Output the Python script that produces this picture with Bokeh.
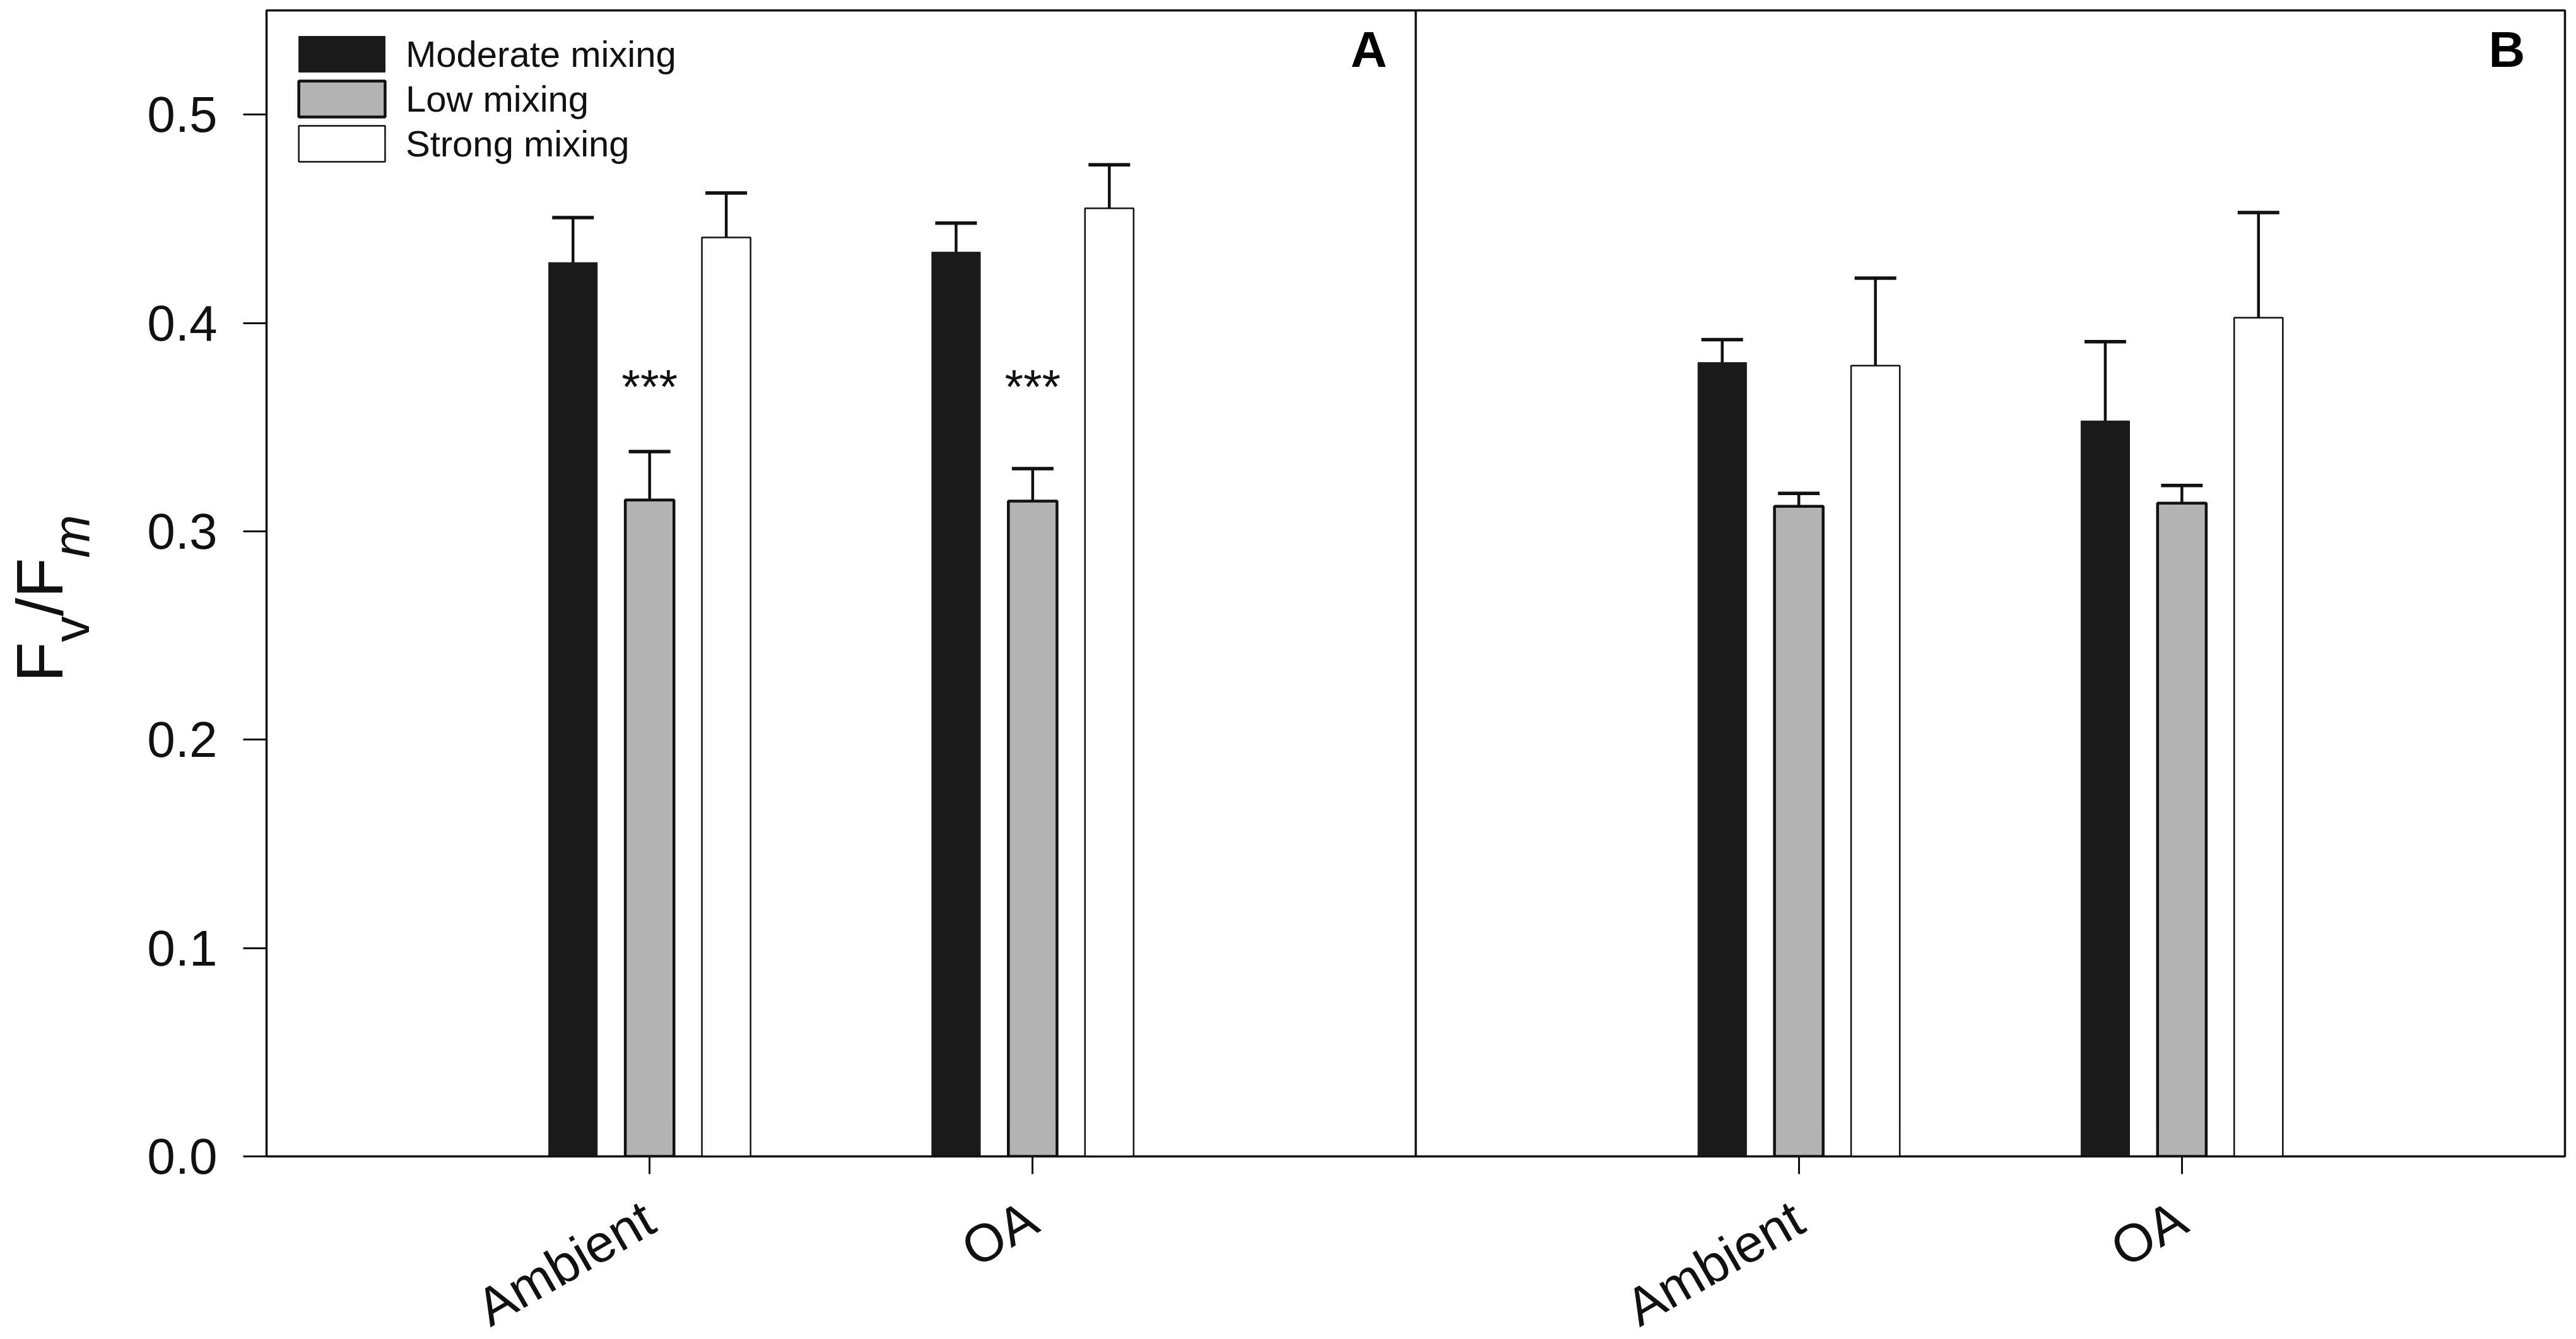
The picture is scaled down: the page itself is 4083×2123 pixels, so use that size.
import math
from bokeh.plotting import figure
from bokeh.layouts import row
from bokeh.models import (ColumnDataSource, FixedTicker, Whisker, TeeHead, Span,
                          Label, Legend, LegendItem, NumeralTickFormatter)
from bokeh.core.properties import value
from bokeh.embed import file_html
from bokeh.resources import INLINE

# ---------------- data ----------------
panels = ["A", "B"]
groups = ["Ambient", "OA"]
series = ["Moderate mixing", "Low mixing", "Strong mixing"]

moderate_A = [0.429, 0.434]
moderate_A_err = [0.0216, 0.0139]
low_A = [0.315, 0.3145]
low_A_err = [0.0233, 0.0156]
strong_A = [0.441, 0.455]
strong_A_err = [0.0214, 0.0209]

moderate_B = [0.381, 0.353]
moderate_B_err = [0.011, 0.038]
low_B = [0.312, 0.3135]
low_B_err = [0.0062, 0.0085]
strong_B = [0.3795, 0.4025]
strong_B_err = [0.042, 0.0505]

sig_panel = "A"          # low mixing marked *** in panel A
sig_text = "***"
sig_level = 0.3695
y_ticks = [0.0, 0.1, 0.2, 0.3, 0.4, 0.5]

# ---------------- styling ----------------
FONT = "Liberation Sans"
INK = "#111111"
colors = ["#1a1a1a", "#b3b3b3", "#ffffff"]
line_colors = ["#1a1a1a", INK, INK]
line_widths = [1, 4.5, 2.5]
offsets = [-0.2, 0.0, 0.2]
BAR_W = 0.127

LAB_W = 160          # width of the strip that holds the y-axis title
FRAME_W, FRAME_H = 3643, 1817

def center(pi, gi):
    return pi * 3 + gi + 1

p = figure(frame_width=FRAME_W, frame_height=FRAME_H, x_range=(0, 6), y_range=(0, 0.55),
           output_backend="svg", toolbar_location=None,
           min_border_left=422 - LAB_W, min_border_top=16, min_border_right=10,
           min_border_bottom=250)
p.xgrid.visible = False
p.ygrid.visible = False
p.outline_line_color = INK
p.outline_line_width = 3.5
p.background_fill_color = "white"
p.border_fill_color = "white"

vals = {
    "Moderate mixing": (moderate_A + moderate_B, moderate_A_err + moderate_B_err),
    "Low mixing": (low_A + low_B, low_A_err + low_B_err),
    "Strong mixing": (strong_A + strong_B, strong_A_err + strong_B_err),
}

items = []
for si, name in enumerate(series):
    tops, errs = vals[name]
    xs = [center(pi, gi) + offsets[si] for pi in range(len(panels)) for gi in range(len(groups))]
    src = ColumnDataSource(dict(x=xs, top=tops, upper=[t + e for t, e in zip(tops, errs)]))
    r = p.vbar(x="x", top="top", bottom=0, width=BAR_W, source=src,
               fill_color=colors[si], line_color=line_colors[si], line_width=line_widths[si])
    w = Whisker(source=src, base="x", lower="top", upper="upper", dimension="height",
                line_color=INK, line_width=4.5, level="annotation",
                upper_head=TeeHead(size=66, line_width=5.5, line_color=INK),
                lower_head=None)
    p.add_layout(w)
    items.append(LegendItem(label=name, renderers=[r]))

# significance marks
pi_sig = panels.index(sig_panel)
sig_src = ColumnDataSource(dict(x=[center(pi_sig, gi) + offsets[1] for gi in range(len(groups))],
                                y=[sig_level] * len(groups), t=[sig_text] * len(groups)))
p.text(x="x", y="y", text="t", source=sig_src, text_align="center", text_baseline="middle",
       text_font=value(FONT), text_font_size="76px", text_color=INK)

# panel divider
p.add_layout(Span(location=3, dimension="height", line_color=INK, line_width=3.5))

# panel letters
for letter, lx in (("A", 2.925), ("B", 5.896)):
    p.add_layout(Label(x=lx, y=0.5312, text=letter, text_align="right", text_baseline="middle",
                       text_font=FONT, text_font_style="bold", text_font_size="80px",
                       text_color="black"))

# axes
ya = p.yaxis[0]
ya.ticker = FixedTicker(ticks=y_ticks)
ya.formatter = NumeralTickFormatter(format="0.0")
ya.major_tick_in = 0
ya.major_tick_out = 37
ya.minor_tick_line_color = None
ya.axis_line_width = 3
ya.major_tick_line_width = 3
ya.axis_line_color = INK
ya.major_tick_line_color = INK
ya.major_label_text_font = FONT
ya.major_label_text_font_size = "80px"
ya.major_label_text_color = INK
ya.major_label_standoff = 41

xa = p.xaxis[0]
xticks = [center(pi, gi) for pi in range(len(panels)) for gi in range(len(groups))]
xa.ticker = FixedTicker(ticks=xticks)
xa.major_label_overrides = {t: groups[i % len(groups)] for i, t in enumerate(xticks)}
xa.major_label_orientation = math.pi / 6
xa.major_tick_in = 0
xa.major_tick_out = 28
xa.minor_tick_line_color = None
xa.axis_line_width = 3
xa.major_tick_line_width = 3
xa.axis_line_color = INK
xa.major_tick_line_color = INK
xa.major_label_text_font = FONT
xa.major_label_text_font_size = "84px"
xa.major_label_text_color = INK
xa.major_label_standoff = 64

# legend (Bokeh insets area glyphs by 10% of the glyph box)
LEG_ROW = 71
legend = Legend(items=items, location=(34, FRAME_H - 34 - 3 * LEG_ROW), orientation="vertical",
                glyph_width=171, glyph_height=LEG_ROW, label_height=60, spacing=0,
                label_standoff=16, padding=0, margin=0,
                label_text_font=FONT, label_text_font_size="58px", label_text_color=INK,
                label_text_baseline="middle",
                background_fill_alpha=0, border_line_alpha=0)
p.add_layout(legend)

# ---------------- y-axis title strip: F_v / F_m ----------------
LAB_H = 1900
lab = figure(frame_width=LAB_W, frame_height=LAB_H, x_range=(0, LAB_W), y_range=(0, LAB_H),
             output_backend="svg", toolbar_location=None,
             min_border_left=0, min_border_right=0, min_border_top=0, min_border_bottom=0)
lab.axis.visible = False
lab.xgrid.visible = False
lab.ygrid.visible = False
lab.outline_line_color = None
lab.background_fill_color = "white"
lab.border_fill_color = "white"

title_txt = ["F", "v", "/", "F", "m"]
title_size = ["104px", "82px", "104px", "104px", "82px"]
title_style = ["normal", "normal", "normal", "normal", "italic"]
title_x = [62, 112, 62, 62, 112]                  # centre line of each piece (px)
title_y = [1065, 1001.5, 960.5, 931.5, 868]       # start of each piece (px from top)
for t, fs, st, tx, ty in zip(title_txt, title_size, title_style, title_x, title_y):
    lab.text(x=[tx], y=[LAB_H - ty], text=[t], angle=math.pi / 2, text_align="left",
             text_baseline="middle", text_font=value(FONT), text_font_size=fs,
             text_font_style=st, text_color=INK)

layout = row(lab, p)
open("out.html", "w").write(file_html(layout, INLINE))
